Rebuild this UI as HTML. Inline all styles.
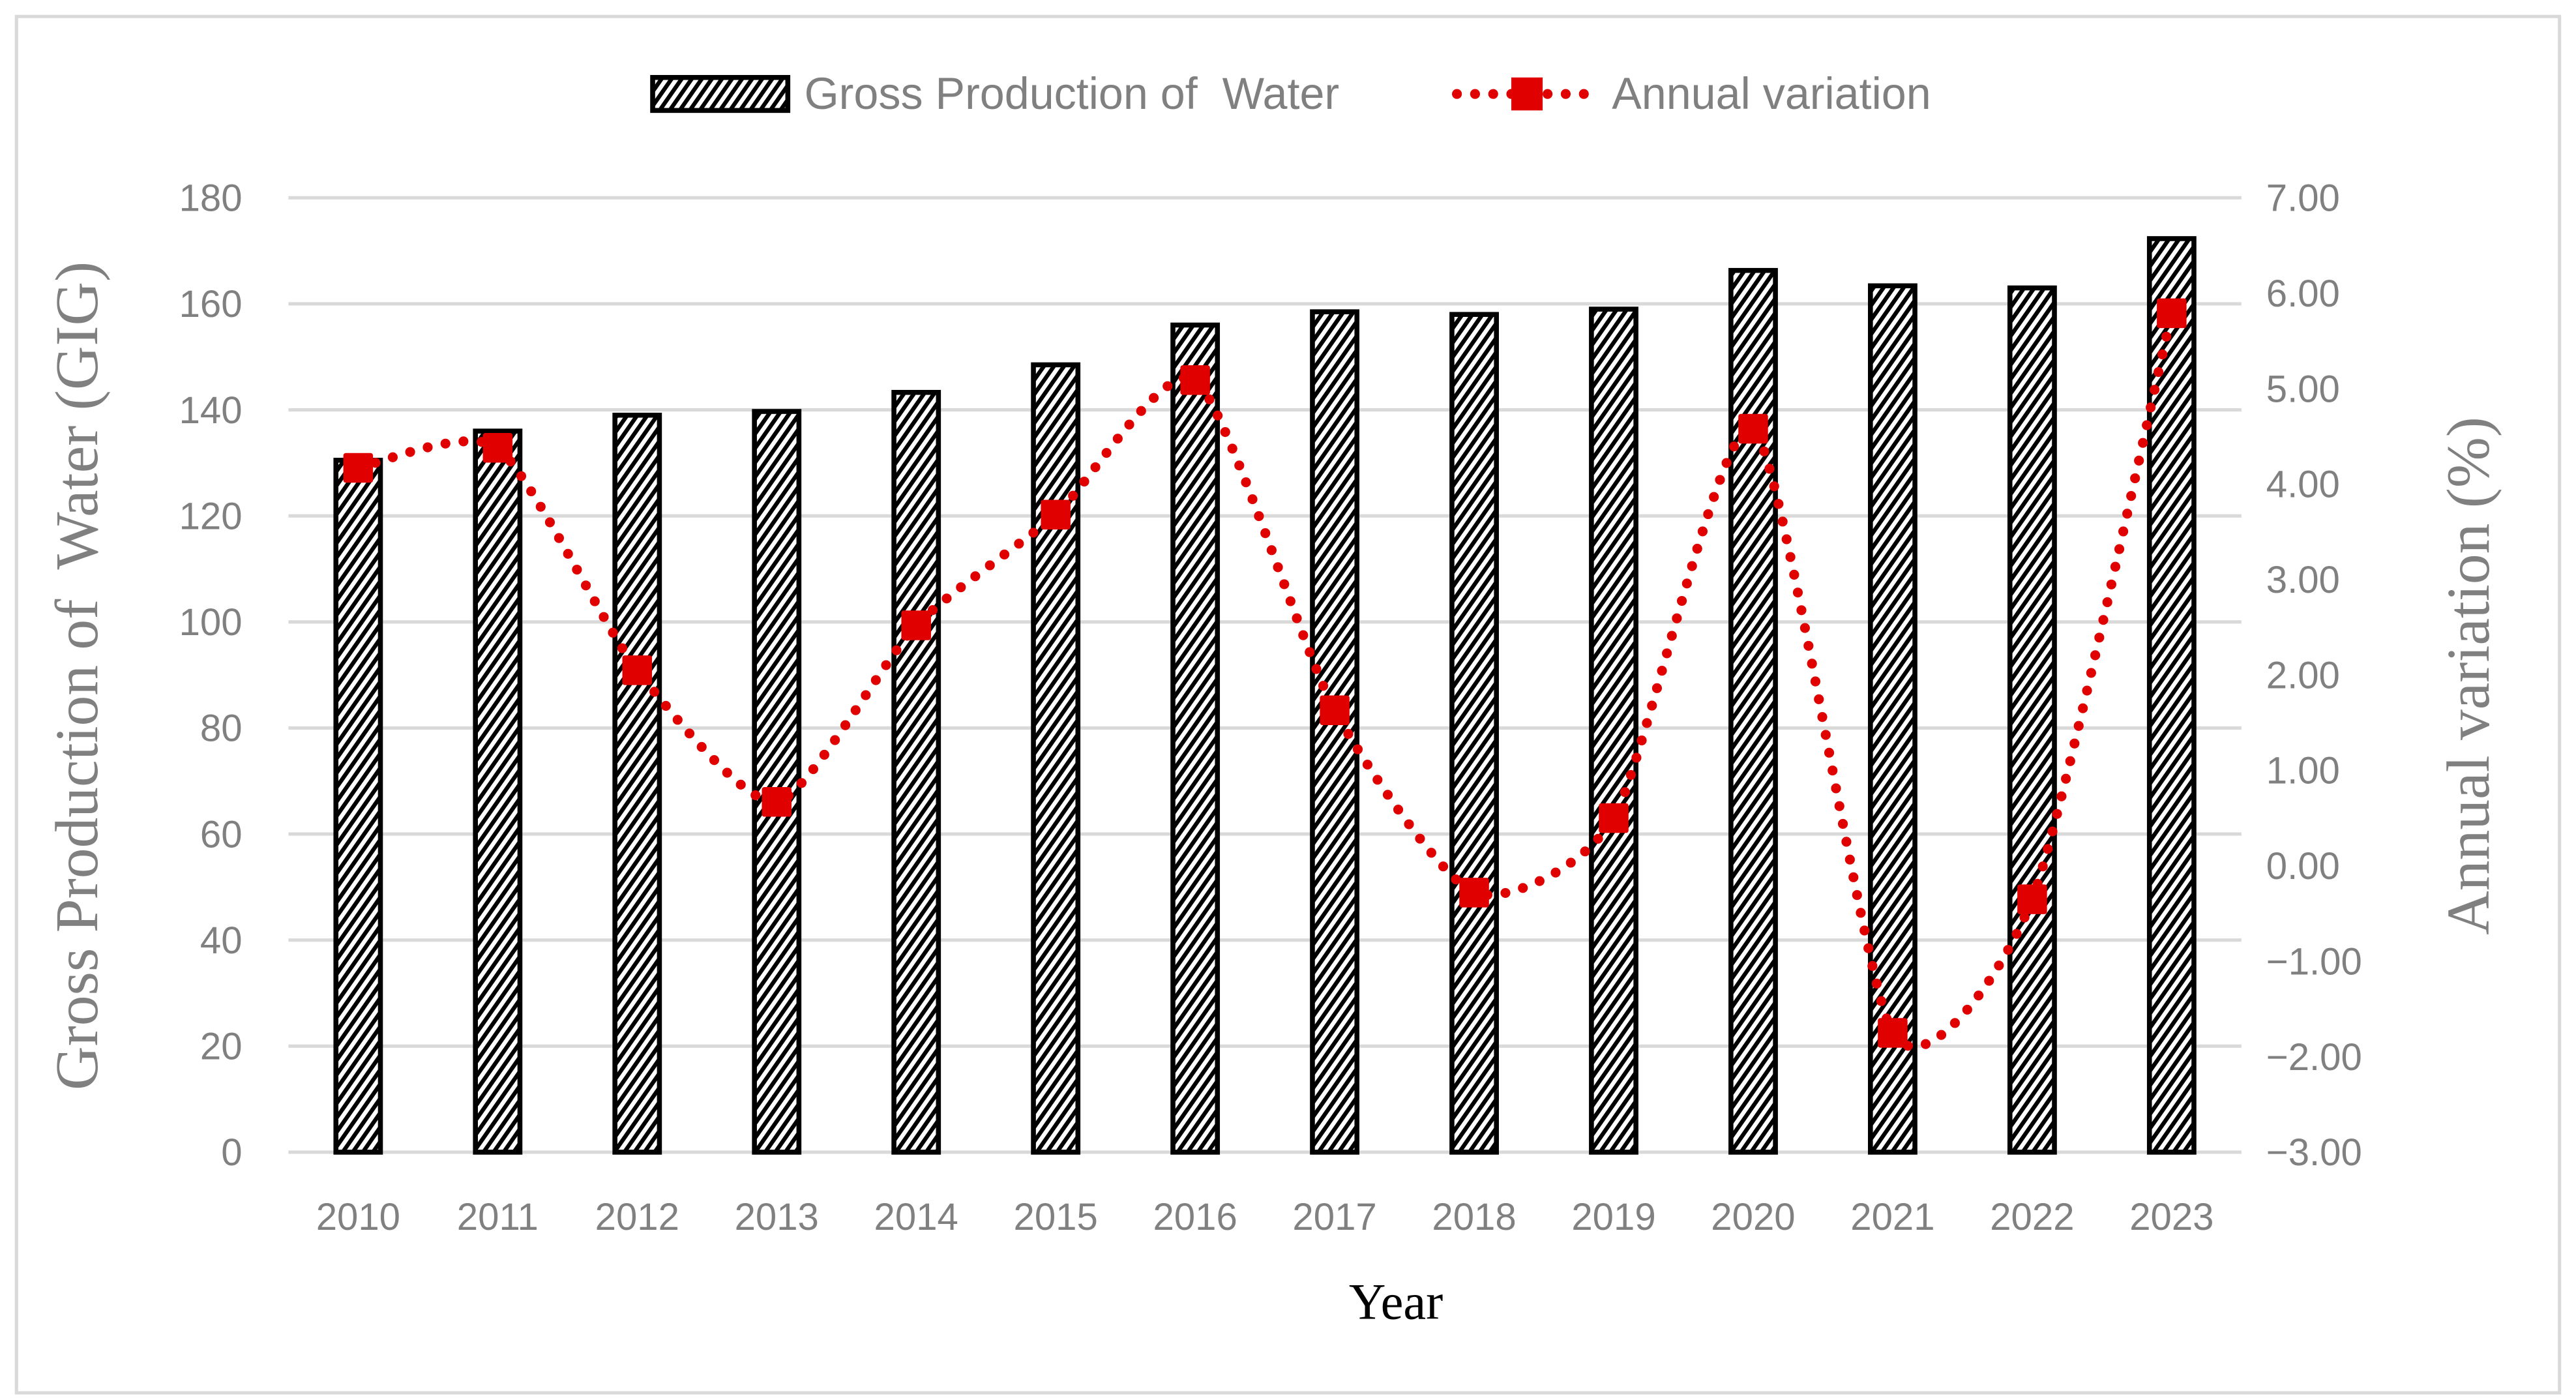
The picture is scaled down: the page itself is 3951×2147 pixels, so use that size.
<!DOCTYPE html>
<html><head><meta charset="utf-8"><style>
html,body{margin:0;padding:0;background:#fff;}
svg{display:block;}
</style></head><body>
<svg id="chart" xmlns="http://www.w3.org/2000/svg" width="3951" height="2147" viewBox="0 0 1563 849.35">
<defs>
<pattern id="hatch" patternUnits="userSpaceOnUse" width="5" height="5" patternTransform="rotate(35)">
<rect width="5" height="5" fill="#fff"/><rect width="2.5" height="5" fill="#000"/>
</pattern>
</defs>
<rect x="10" y="10" width="1543" height="835" fill="#fff" stroke="#d9d9d9" stroke-width="2"/>
<g id="grid"></g>
<g id="leftTicks" font-family="Liberation Sans, sans-serif" font-size="23" fill="#808080" text-anchor="end"></g>
<g id="rightTicks" font-family="Liberation Sans, sans-serif" font-size="23" fill="#808080" text-anchor="start"></g>
<g id="bars"></g>
<path id="line" fill="none" stroke="#e00000" stroke-width="6" stroke-linecap="round" stroke-dasharray="0 11"/>
<g id="markers"></g>
<g id="xTicks" font-family="Liberation Sans, sans-serif" font-size="23" fill="#808080" text-anchor="middle"></g>
<text x="847" y="800" font-family="Liberation Serif, serif" font-size="31" fill="#000" text-anchor="middle">Year</text>
<text transform="translate(59,410) rotate(-90)" font-family="Liberation Serif, serif" font-size="37" fill="#808080" text-anchor="middle" xml:space="preserve">Gross Production of  Water (GIG)</text>
<text transform="translate(1510,410) rotate(-90)" font-family="Liberation Serif, serif" font-size="37" fill="#808080" text-anchor="middle">Annual variation (%)</text>
<g>
<rect x="396" y="47" width="82" height="20" fill="url(#hatch)" stroke="#000" stroke-width="3"/>
<text x="488" y="66" font-family="Liberation Sans, sans-serif" font-size="27" fill="#808080" xml:space="preserve">Gross Production of  Water</text>
<line x1="884" y1="57" x2="964" y2="57" stroke="#e00000" stroke-width="6" stroke-linecap="round" stroke-dasharray="0 11"/>
<rect x="917" y="47" width="19" height="20" fill="#e00000"/>
<text x="978" y="66" font-family="Liberation Sans, sans-serif" font-size="27" fill="#808080">Annual variation</text>
</g>
</svg>
<script>
const years = ["2010","2011","2012","2013","2014","2015","2016","2017","2018","2019","2020","2021","2022","2023"];
const production = [130.5,136,139,139.7,143.3,148.5,156,158.5,158,159,166.3,163.4,163,172.3];
const variation = [4.17,4.38,2.05,0.67,2.52,3.68,5.09,1.63,-0.28,0.50,4.58,-1.75,-0.35,5.79];
const leftTickValues = [0,20,40,60,80,100,120,140,160,180];
const rightTickValues = [-3,-2,-1,0,1,2,3,4,5,6,7];

const NS = "http://www.w3.org/2000/svg";
const X0 = 175, X1 = 1360, YT = 120, YB = 699;
const band = (X1 - X0) / years.length;
const xc = i => X0 + band * (i + 0.5);
const yL = v => YB - (v / 180) * (YB - YT);
const yR = v => YB - ((v + 3) / 10) * (YB - YT);
function mk(tag, attrs, parent) {
  const e = document.createElementNS(NS, tag);
  for (const k in attrs) e.setAttribute(k, attrs[k]);
  parent.appendChild(e);
  return e;
}
const grid = document.getElementById('grid');
const lt = document.getElementById('leftTicks');
leftTickValues.forEach(v => {
  const l = mk('line', {x1: X0, x2: X1, y1: yL(v), y2: yL(v), stroke: '#d9d9d9', 'stroke-width': 2}, grid);
  
  
  const t = mk('text', {x: 147, y: yL(v) + 8}, lt);
  t.textContent = v;
  
  
});
const rt = document.getElementById('rightTicks');
rightTickValues.forEach(v => {
  const t = mk('text', {x: 1375, y: yR(v) + 8}, rt);
  t.textContent = (v < 0 ? '\u2212' + Math.abs(v).toFixed(2) : v.toFixed(2));
  
  
});
const bars = document.getElementById('bars');
const bw = 27;
production.forEach((v, i) => {
  const r = mk('rect', {x: xc(i) - bw / 2, y: yL(v), width: bw, height: YB - yL(v), fill: 'url(#hatch)', stroke: '#000', 'stroke-width': 3}, bars);
  
  
});
const xt = document.getElementById('xTicks');
years.forEach((y, i) => {
  const t = mk('text', {x: xc(i), y: 746}, xt);
  t.textContent = y;
  
  
});
const pts = variation.map((v, i) => [xc(i), yR(v)]);
let d = 'M' + pts[0][0] + ',' + pts[0][1];
for (let i = 0; i < pts.length - 1; i++) {
  const p0 = pts[Math.max(0, i - 1)], p1 = pts[i], p2 = pts[i + 1], p3 = pts[Math.min(pts.length - 1, i + 2)];
  const t = 0.11;
  const c1 = [p1[0] + (p2[0] - p0[0]) * t, p1[1] + (p2[1] - p0[1]) * t];
  const c2 = [p2[0] - (p3[0] - p1[0]) * t, p2[1] - (p3[1] - p1[1]) * t];
  d += ' C' + c1 + ' ' + c2 + ' ' + p2;
}
document.getElementById('line').setAttribute('d', d);
const mg = document.getElementById('markers');
pts.forEach((p, i) => {
  const r = mk('rect', {x: p[0] - 9, y: p[1] - 9, width: 18, height: 18, rx: 1.5, fill: '#e00000'}, mg);
  
  
});
</script>
</body></html>
